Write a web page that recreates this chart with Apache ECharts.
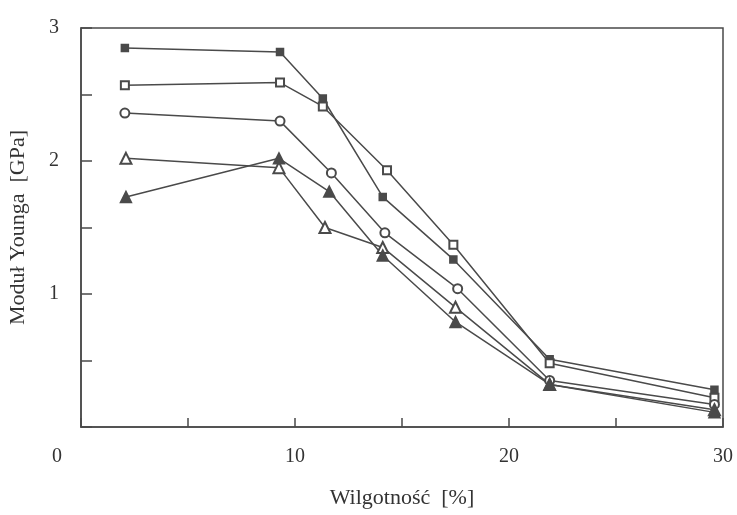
<!DOCTYPE html>
<html><head><meta charset="utf-8">
<script src="https://cdn.jsdelivr.net/npm/echarts@6/dist/echarts.min.js"></script>
<style>html,body{margin:0;padding:0;background:#fff}#c{width:737px;height:515px}</style>
</head><body><div id="c"></div>
<script>
// Moisture [%] per series
const xFilledSq = [2.05, 9.3, 11.3, 14.1, 17.4, 21.9, 29.6];
const xOpenSq   = [2.05, 9.3, 11.3, 14.3, 17.4, 21.9, 29.6];
const xCircle   = [2.05, 9.3, 11.7, 14.2, 17.6, 21.9, 29.6];
const xOpenTri  = [2.1, 9.25, 11.4, 14.1, 17.5, 21.9, 29.6];
const xFilledTri= [2.1, 9.25, 11.6, 14.1, 17.5, 21.9, 29.6];
// Young's modulus [GPa]
const yFilledSq = [2.85, 2.82, 2.47, 1.73, 1.26, 0.51, 0.28];
const yOpenSq   = [2.57, 2.59, 2.41, 1.93, 1.37, 0.48, 0.22];
const yCircle   = [2.36, 2.30, 1.91, 1.46, 1.04, 0.35, 0.17];
const yOpenTri  = [2.02, 1.95, 1.50, 1.35, 0.90, 0.32, 0.13];
const yFilledTri= [1.73, 2.02, 1.77, 1.29, 0.79, 0.32, 0.11];
const xTickLabels = ['0', '10', '20', '30'];
const yTickLabels = ['1', '2', '3'];
const xTitle = 'Wilgotność  [%]';
const yTitle = 'Moduł Younga  [GPa]';

const ink = '#4a4a4a';
const font = 'Liberation Serif';
function pairs(xs, ys){ return xs.map((x,i)=>[x, ys[i]]); }
function ser(xs, ys, symbol, size){
  return {type:'line', data:pairs(xs,ys), symbol:symbol, symbolSize:size,
    lineStyle:{color:ink, width:1.5}, itemStyle:{color:ink, borderColor:ink, borderWidth:1.5},
    emphasis:{disabled:true}, animation:false};
}
const chart = echarts.init(document.getElementById('c'));
chart.setOption({
  backgroundColor:'#fff',
  grid:{left:81, right:14, top:28, bottom:88, show:true, borderColor:ink, borderWidth:1.5,
    containLabel:false, outerBoundsMode:'none'},
  xAxis:{type:'value', min:0, max:30, interval:5,
    name:xTitle, nameLocation:'middle', nameGap:60,
    nameTextStyle:{fontFamily:font, fontSize:22, color:'#333'},
    axisLine:{show:true, lineStyle:{color:ink, width:1.5}},
    axisTick:{show:true, inside:true, length:9, lineStyle:{color:ink, width:1.5}},
    splitLine:{show:false},
    axisLabel:{margin:20, fontFamily:font, fontSize:20, color:'#333',
      formatter:function(v){ const s=String(v); if(!xTickLabels.includes(s)) return ''; return s==='0' ? '{z|0}' : s; },
      rich:{z:{fontFamily:font, fontSize:20, color:'#333', padding:[0,48,0,0]}}}
  },
  yAxis:{type:'value', min:0, max:3, interval:0.5,
    name:yTitle, nameLocation:'middle', nameGap:52,
    nameTextStyle:{fontFamily:font, fontSize:22, color:'#333'},
    axisLine:{show:true, lineStyle:{color:ink, width:1.5}},
    axisTick:{show:true, inside:true, length:11, lineStyle:{color:ink, width:1.5}},
    splitLine:{show:false},
    axisLabel:{margin:22, fontFamily:font, fontSize:20, color:'#333', padding:[0,0,14,0],
      formatter:function(v){ const s=String(v); return yTickLabels.includes(s) ? s : ''; }}
  },
  series:[
    ser(xFilledSq, yFilledSq, 'rect', 7),
    ser(xOpenSq, yOpenSq, 'emptyRect', 8),
    ser(xCircle, yCircle, 'emptyCircle', 9),
    ser(xOpenTri, yOpenTri, 'emptyTriangle', 11),
    ser(xFilledTri, yFilledTri, 'triangle', 11)
  ]
});
</script></body></html>
